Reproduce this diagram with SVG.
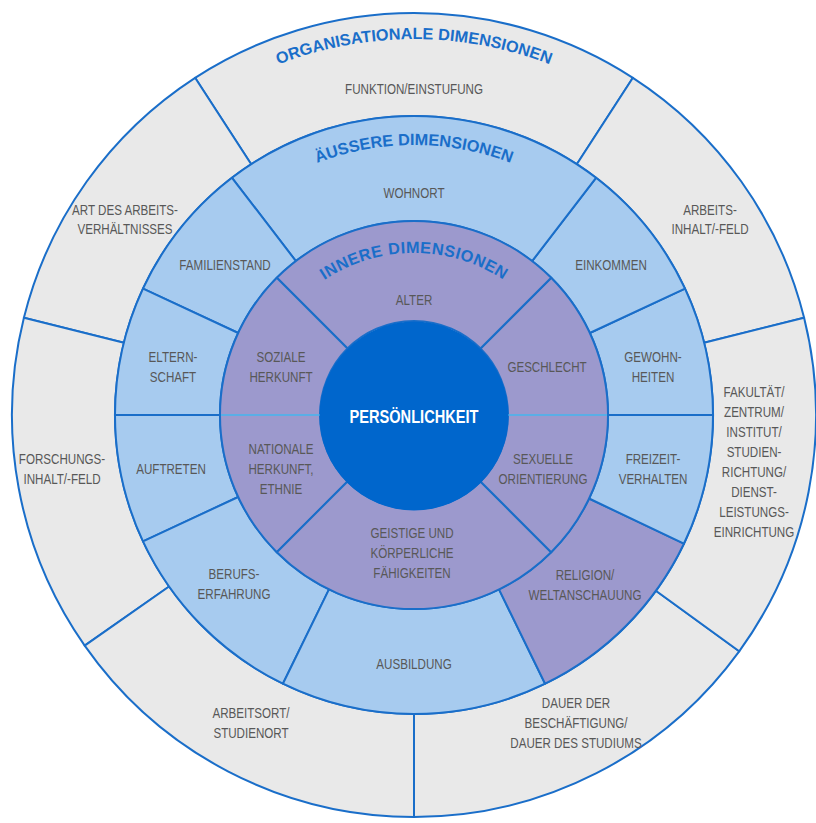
<svg xmlns="http://www.w3.org/2000/svg" width="816" height="823" viewBox="0 0 816 823">
<style>
.o{fill:#e9e9e9;stroke:#1a6ec9;stroke-width:2;stroke-linejoin:round}
.m{fill:#a7cbef;stroke:#1a6ec9;stroke-width:2;stroke-linejoin:round}
.i{fill:#9c99cd;stroke:#1a6ec9;stroke-width:2;stroke-linejoin:round}
.lbl{font-family:'Liberation Sans',Arial,sans-serif;font-size:14.5px;fill:#585858;text-anchor:middle}
.ttl{font-family:'Liberation Sans',Arial,sans-serif;font-size:16.3px;font-weight:bold;fill:#1a6ec9}
.ctr{font-family:'Liberation Sans',Arial,sans-serif;font-size:17.5px;font-weight:bold;fill:#ffffff;text-anchor:middle}
</style>
<defs>
<path id="arcOrg" d="M 38,415 A 376 376 0 0 1 790,415"/>
<path id="arcAus" d="M 144,415 A 270 270 0 0 1 684,415"/>
<path id="arcInn" d="M 252,415 A 162 162 0 0 1 576,415"/>
</defs>
<rect width="816" height="823" fill="#ffffff"/>

<g id="outer-ring">
<g id="funktion">
<path class="o" d="M 576.8,164.2 L 632.9,77.8 A 402 402 0 0 0 195.1,77.8 L 251.2,164.2 A 299 299 0 0 1 576.8,164.2 Z"/>
<text class="lbl" transform="translate(414,94) scale(0.8,1)"><tspan x="0" y="0">FUNKTION/EINSTUFUNG</tspan></text>
</g>
<g id="arbeitsinhalt">
<path class="o" d="M 704.1,342.7 L 804.1,317.8 A 402 402 0 0 0 632.9,77.8 L 576.8,164.2 A 299 299 0 0 1 704.1,342.7 Z"/>
<text class="lbl" transform="translate(710,215) scale(0.8,1)"><tspan x="0" y="0">ARBEITS-</tspan><tspan x="0" y="19">INHALT/-FELD</tspan></text>
</g>
<g id="art-des-arbeitsverhaeltnisses">
<path class="o" d="M 251.2,164.2 L 195.1,77.8 A 402 402 0 0 0 23.9,317.8 L 123.9,342.7 A 299 299 0 0 1 251.2,164.2 Z"/>
<text class="lbl" transform="translate(125,215) scale(0.8,1)"><tspan x="0" y="0">ART DES ARBEITS-</tspan><tspan x="0" y="19">VERHÄLTNISSES</tspan></text>
</g>
<g id="forschungsinhalt">
<path class="o" d="M 123.9,342.7 L 23.9,317.8 A 402 402 0 0 0 84.7,645.6 L 169.1,586.5 A 299 299 0 0 1 123.9,342.7 Z"/>
<text class="lbl" transform="translate(62,464) scale(0.8,1)"><tspan x="0" y="0">FORSCHUNGS-</tspan><tspan x="0" y="20">INHALT/-FELD</tspan></text>
</g>
<g id="arbeitsort">
<path class="o" d="M 169.1,586.5 L 84.7,645.6 A 402 402 0 0 0 414,817 L 414,714 A 299 299 0 0 1 169.1,586.5 Z"/>
<text class="lbl" transform="translate(251,718) scale(0.8,1)"><tspan x="0" y="0">ARBEITSORT/</tspan><tspan x="0" y="20">STUDIENORT</tspan></text>
</g>
<g id="dauer">
<path class="o" d="M 414,714 L 414,817 A 402 402 0 0 0 739.2,651.3 L 655.9,590.8 A 299 299 0 0 1 414,714 Z"/>
<text class="lbl" transform="translate(576,708) scale(0.8,1)"><tspan x="0" y="0">DAUER DER</tspan><tspan x="0" y="20">BESCHÄFTIGUNG/</tspan><tspan x="0" y="40">DAUER DES STUDIUMS</tspan></text>
</g>
<g id="fakultaet">
<path class="o" d="M 655.9,590.8 L 739.2,651.3 A 402 402 0 0 0 804.1,317.8 L 704.1,342.7 A 299 299 0 0 1 655.9,590.8 Z"/>
<text class="lbl" transform="translate(754,397) scale(0.8,1)"><tspan x="0" y="0">FAKULTÄT/</tspan><tspan x="0" y="20">ZENTRUM/</tspan><tspan x="0" y="40">INSTITUT/</tspan><tspan x="0" y="60">STUDIEN-</tspan><tspan x="0" y="80">RICHTUNG/</tspan><tspan x="0" y="100">DIENST-</tspan><tspan x="0" y="120">LEISTUNGS-</tspan><tspan x="0" y="140">EINRICHTUNG</tspan></text>
</g>
</g>

<g id="middle-ring">
<g id="gewohnheiten">
<path class="m" d="M 608,415 L 713,415 A 299 299 0 0 0 685,288.6 L 589.8,333 A 194 194 0 0 1 608,415 Z"/>
<text class="lbl" transform="translate(653,362) scale(0.8,1)"><tspan x="0" y="0">GEWOHN-</tspan><tspan x="0" y="20">HEITEN</tspan></text>
</g>
<g id="einkommen">
<path class="m" d="M 589.8,333 L 685,288.6 A 299 299 0 0 0 596,177.8 L 532.1,261.1 A 194 194 0 0 1 589.8,333 Z"/>
<text class="lbl" transform="translate(611,270) scale(0.8,1)"><tspan x="0" y="0">EINKOMMEN</tspan></text>
</g>
<g id="wohnort">
<path class="m" d="M 532.1,261.1 L 596,177.8 A 299 299 0 0 0 232,177.8 L 295.9,261.1 A 194 194 0 0 1 532.1,261.1 Z"/>
<text class="lbl" transform="translate(414,198) scale(0.8,1)"><tspan x="0" y="0">WOHNORT</tspan></text>
</g>
<g id="familienstand">
<path class="m" d="M 295.9,261.1 L 232,177.8 A 299 299 0 0 0 143,288.6 L 238.2,333 A 194 194 0 0 1 295.9,261.1 Z"/>
<text class="lbl" transform="translate(225,270) scale(0.8,1)"><tspan x="0" y="0">FAMILIENSTAND</tspan></text>
</g>
<g id="elternschaft">
<path class="m" d="M 238.2,333 L 143,288.6 A 299 299 0 0 0 115,415 L 220,415 A 194 194 0 0 1 238.2,333 Z"/>
<text class="lbl" transform="translate(173,362) scale(0.8,1)"><tspan x="0" y="0">ELTERN-</tspan><tspan x="0" y="20">SCHAFT</tspan></text>
</g>
<g id="auftreten">
<path class="m" d="M 220,415 L 115,415 A 299 299 0 0 0 143,541.4 L 238.2,497 A 194 194 0 0 1 220,415 Z"/>
<text class="lbl" transform="translate(171,474) scale(0.8,1)"><tspan x="0" y="0">AUFTRETEN</tspan></text>
</g>
<g id="berufserfahrung">
<path class="m" d="M 238.2,497 L 143,541.4 A 299 299 0 0 0 282.9,683.7 L 329,589.4 A 194 194 0 0 1 238.2,497 Z"/>
<text class="lbl" transform="translate(234,579) scale(0.8,1)"><tspan x="0" y="0">BERUFS-</tspan><tspan x="0" y="20">ERFAHRUNG</tspan></text>
</g>
<g id="ausbildung">
<path class="m" d="M 329,589.4 L 282.9,683.7 A 299 299 0 0 0 545.1,683.7 L 499,589.4 A 194 194 0 0 1 329,589.4 Z"/>
<text class="lbl" transform="translate(414,669) scale(0.8,1)"><tspan x="0" y="0">AUSBILDUNG</tspan></text>
</g>
<g id="religion">
<path class="i" d="M 499,589.4 L 545.1,683.7 A 299 299 0 0 0 683.9,543.7 L 589.1,498.5 A 194 194 0 0 1 499,589.4 Z"/>
<text class="lbl" transform="translate(585,580) scale(0.8,1)"><tspan x="0" y="0">RELIGION/</tspan><tspan x="0" y="20">WELTANSCHAUUNG</tspan></text>
</g>
<g id="freizeitverhalten">
<path class="m" d="M 589.1,498.5 L 683.9,543.7 A 299 299 0 0 0 713,415 L 608,415 A 194 194 0 0 1 589.1,498.5 Z"/>
<text class="lbl" transform="translate(653,464) scale(0.8,1)"><tspan x="0" y="0">FREIZEIT-</tspan><tspan x="0" y="20">VERHALTEN</tspan></text>
</g>
</g>

<g id="inner-ring">
<g id="geschlecht">
<path class="i" d="M 508,415 L 608,415 A 194 194 0 0 0 551.2,277.8 L 480.5,348.5 A 94 94 0 0 1 508,415 Z"/>
<text class="lbl" transform="translate(547,372) scale(0.8,1)"><tspan x="0" y="0">GESCHLECHT</tspan></text>
</g>
<g id="alter">
<path class="i" d="M 480.5,348.5 L 551.2,277.8 A 194 194 0 0 0 276.8,277.8 L 347.5,348.5 A 94 94 0 0 1 480.5,348.5 Z"/>
<text class="lbl" transform="translate(414,305) scale(0.8,1)"><tspan x="0" y="0">ALTER</tspan></text>
</g>
<g id="soziale-herkunft">
<path class="i" d="M 347.5,348.5 L 276.8,277.8 A 194 194 0 0 0 220,415 L 320,415 A 94 94 0 0 1 347.5,348.5 Z"/>
<text class="lbl" transform="translate(281,362) scale(0.8,1)"><tspan x="0" y="0">SOZIALE</tspan><tspan x="0" y="20">HERKUNFT</tspan></text>
</g>
<g id="nationale-herkunft">
<path class="i" d="M 320,415 L 220,415 A 194 194 0 0 0 276.8,552.2 L 347.5,481.5 A 94 94 0 0 1 320,415 Z"/>
<text class="lbl" transform="translate(281,454) scale(0.8,1)"><tspan x="0" y="0">NATIONALE</tspan><tspan x="0" y="20">HERKUNFT,</tspan><tspan x="0" y="40">ETHNIE</tspan></text>
</g>
<g id="faehigkeiten">
<path class="i" d="M 347.5,481.5 L 276.8,552.2 A 194 194 0 0 0 551.2,552.2 L 480.5,481.5 A 94 94 0 0 1 347.5,481.5 Z"/>
<text class="lbl" transform="translate(412,538) scale(0.8,1)"><tspan x="0" y="0">GEISTIGE UND</tspan><tspan x="0" y="20">KÖRPERLICHE</tspan><tspan x="0" y="40">FÄHIGKEITEN</tspan></text>
</g>
<g id="sexuelle-orientierung">
<path class="i" d="M 480.5,481.5 L 551.2,552.2 A 194 194 0 0 0 608,415 L 508,415 A 94 94 0 0 1 480.5,481.5 Z"/>
<text class="lbl" transform="translate(543,464) scale(0.8,1)"><tspan x="0" y="0">SEXUELLE</tspan><tspan x="0" y="20">ORIENTIERUNG</tspan></text>
</g>
</g>

<g id="connectors">
<line x1="221" y1="415" x2="320" y2="415" stroke="#5aaee6" stroke-width="2"/>
<line x1="508" y1="415" x2="607" y2="415" stroke="#5aaee6" stroke-width="2"/>
</g>

<g id="persoenlichkeit">
<circle cx="414" cy="416" r="94.5" fill="#0066cc"/>
<text class="ctr" transform="translate(414,423) scale(0.835,1)">PERSÖNLICHKEIT</text>
</g>

<g id="titles">
<text class="ttl"><textPath href="#arcOrg" startOffset="50%" text-anchor="middle">ORGANISATIONALE DIMENSIONEN</textPath></text>
<text class="ttl"><textPath href="#arcAus" startOffset="50%" text-anchor="middle">ÄUSSERE DIMENSIONEN</textPath></text>
<text class="ttl" letter-spacing="0.5"><textPath href="#arcInn" startOffset="50%" text-anchor="middle">INNERE DIMENSIONEN</textPath></text>
</g>
</svg>
